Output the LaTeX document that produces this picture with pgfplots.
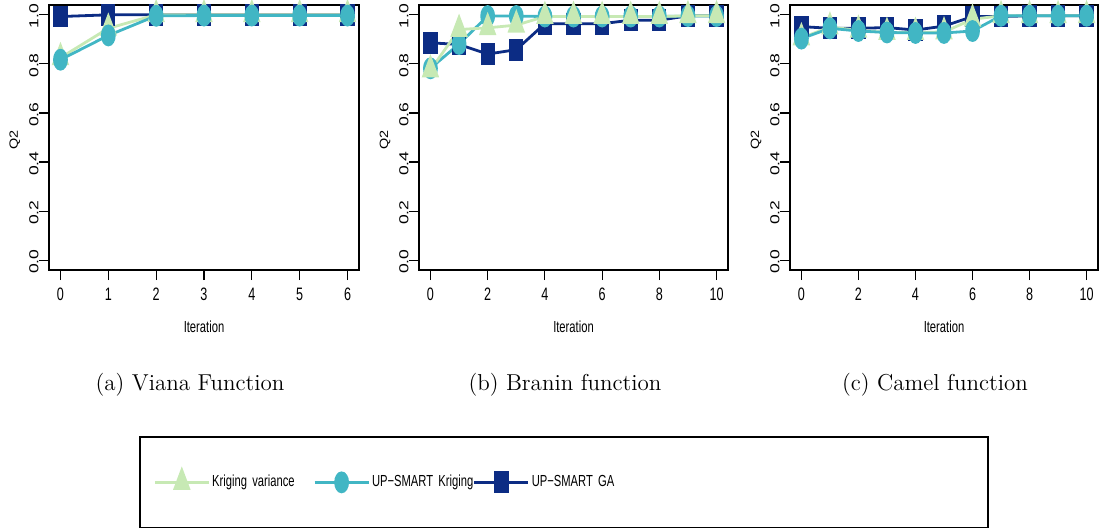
\documentclass[border=0pt]{standalone}
\usepackage{fontspec}
\usepackage{pgfplots}
\pgfplotsset{compat=1.18}

% R output is squeezed sideways, so the sans fonts are stretched to match
\newfontfamily\narrowsf[FakeStretch=0.7]{Liberation Sans}
\newfontfamily\widesf[FakeStretch=1.35]{Liberation Sans}
\newfontfamily\qsf[FakeStretch=1.2]{Liberation Sans}

\definecolor{kvcol}{HTML}{C7E9B4}
\definecolor{ukcol}{HTML}{41B6C4}
\definecolor{gacol}{HTML}{0C2C84}

\pgfplotsset{
  rpanel/.style={
    scale only axis, width=155pt, height=132.5pt,
    ymin=-0.04, ymax=1.04, ytick={0,0.2,0.4,0.6,0.8,1.0},
    axis line style={line width=0.6pt},
    tick align=outside, xtick pos=left, ytick pos=left,
    major tick length=5pt, tick style={black, line width=0.6pt},
    /pgf/number format/assume math mode=true,
    xticklabel style={font=\narrowsf\fontsize{9}{9}\selectfont, inner sep=0pt, yshift=-4pt},
    xlabel={Iteration}, ylabel={Q2},
    xlabel style={font=\narrowsf\fontsize{8}{8}\selectfont, at={(axis description cs:0.5,-0.215)}, anchor=center},
    ylabel style={font=\qsf\fontsize{6}{6}\selectfont, at={(axis description cs:-0.11,0.49)}, anchor=center},
    every axis plot/.append style={line width=1.4pt},
    yticklabel style={font=\widesf\fontsize{6.5}{6.5}\selectfont, rotate=90, anchor=south, inner sep=0pt, xshift=-0.8pt,
      /pgf/number format/.cd, fixed, fixed zerofill, precision=1},
  },
  kv/.style={kvcol, mark=triangle*, mark size=6pt, mark options={xscale=0.65, solid}},
  uk/.style={ukcol, mark=*, mark size=4.75pt, mark options={xscale=0.63, solid}},
  ga/.style={gacol, mark=square*, mark size=4.75pt, mark options={xscale=0.6, solid}},
}

\begin{document}
\begin{tikzpicture}
\useasboundingbox (0,0) rectangle (549.5pt,263.5pt);

% (a) Viana
\begin{axis}[rpanel, at={(24.5pt,128.5pt)}, anchor=south west,
  xmin=-0.24, xmax=6.24, xtick={0,1,2,3,4,5,6},
  legend columns=3, legend cell align=left,
  legend image code/.code={\draw[mark repeat=2, mark phase=2, #1] plot coordinates {(0pt,0pt) (13.5pt,0pt) (27pt,0pt)};},
  legend style={at={(axis description cs:0.3355,-0.8)}, anchor=west, draw=none, fill=none,
    inner sep=0pt, column sep=0pt,
    nodes={font=\narrowsf\fontsize{8}{8}\selectfont, text width=49.5pt, inner xsep=1pt, align=left}},
]
\addlegendimage{kv, line width=1.4pt}
\addlegendimage{uk, line width=1.4pt}
\addlegendimage{ga, line width=1.4pt}
\addplot[ga, forget plot] coordinates {(0,0.993) (1,1.0) (2,1.0) (3,1.0) (4,1.0) (5,1.0) (6,1.0)};
\addplot[kv, forget plot] coordinates {(0,0.825) (1,0.945) (2,1.0) (3,1.0) (4,1.0) (5,1.0) (6,1.0)};
\addplot[uk, forget plot] coordinates {(0,0.817) (1,0.916) (2,0.996) (3,0.997) (4,0.997) (5,0.997) (6,0.997)};
\legend{\mbox{Kriging variance}, \mbox{UP−SMART Kriging}, \mbox{UP−SMART GA}}
\end{axis}

% (b) Branin
\begin{axis}[rpanel, at={(209.5pt,128.5pt)}, anchor=south west, width=154.5pt,
  xmin=-0.4, xmax=10.4, xtick={0,2,4,6,8,10}]
\addplot[ga] coordinates {(0,0.886) (1,0.879) (2,0.840) (3,0.858) (4,0.964) (5,0.964) (6,0.964) (7,0.978) (8,0.978) (9,0.996) (10,0.996)};
\addplot[uk] coordinates {(0,0.782) (1,0.881) (2,0.995) (3,0.995) (4,0.993) (5,0.993) (6,0.993) (7,0.993) (8,0.993) (9,0.995) (10,0.995)};
\addplot[kv] coordinates {(0,0.775) (1,0.940) (2,0.947) (3,0.958) (4,0.993) (5,0.993) (6,0.993) (7,0.993) (8,0.993) (9,0.996) (10,0.996)};
\end{axis}

% (c) Camel
\begin{axis}[rpanel, at={(395pt,128.5pt)}, anchor=south west, width=154pt,
  xmin=-0.4, xmax=10.4, xtick={0,2,4,6,8,10}]
\addplot[ga] coordinates {(0,0.952) (1,0.945) (2,0.945) (3,0.948) (4,0.938) (5,0.954) (6,0.993) (7,0.993) (8,0.996) (9,0.996) (10,0.996)};
\addplot[kv] coordinates {(0,0.906) (1,0.950) (2,0.937) (3,0.928) (4,0.928) (5,0.930) (6,0.982) (7,0.996) (8,0.996) (9,0.996) (10,0.996)};
\addplot[uk] coordinates {(0,0.903) (1,0.945) (2,0.934) (3,0.928) (4,0.926) (5,0.926) (6,0.934) (7,0.996) (8,0.996) (9,0.996) (10,0.996)};
\end{axis}

\node[anchor=base, font=\fontsize{11.5}{12}\selectfont] at (95pt,68.5pt) {(a) Viana Function};
\node[anchor=base, font=\fontsize{11.5}{12}\selectfont] at (282.5pt,68.5pt) {(b) Branin function};
\node[anchor=base, font=\fontsize{11.5}{12}\selectfont] at (467.5pt,68.5pt) {(c) Camel function};

\draw[line width=0.6pt] (70pt,-0.3pt) rectangle (494pt,45pt);
\end{tikzpicture}
\end{document}
